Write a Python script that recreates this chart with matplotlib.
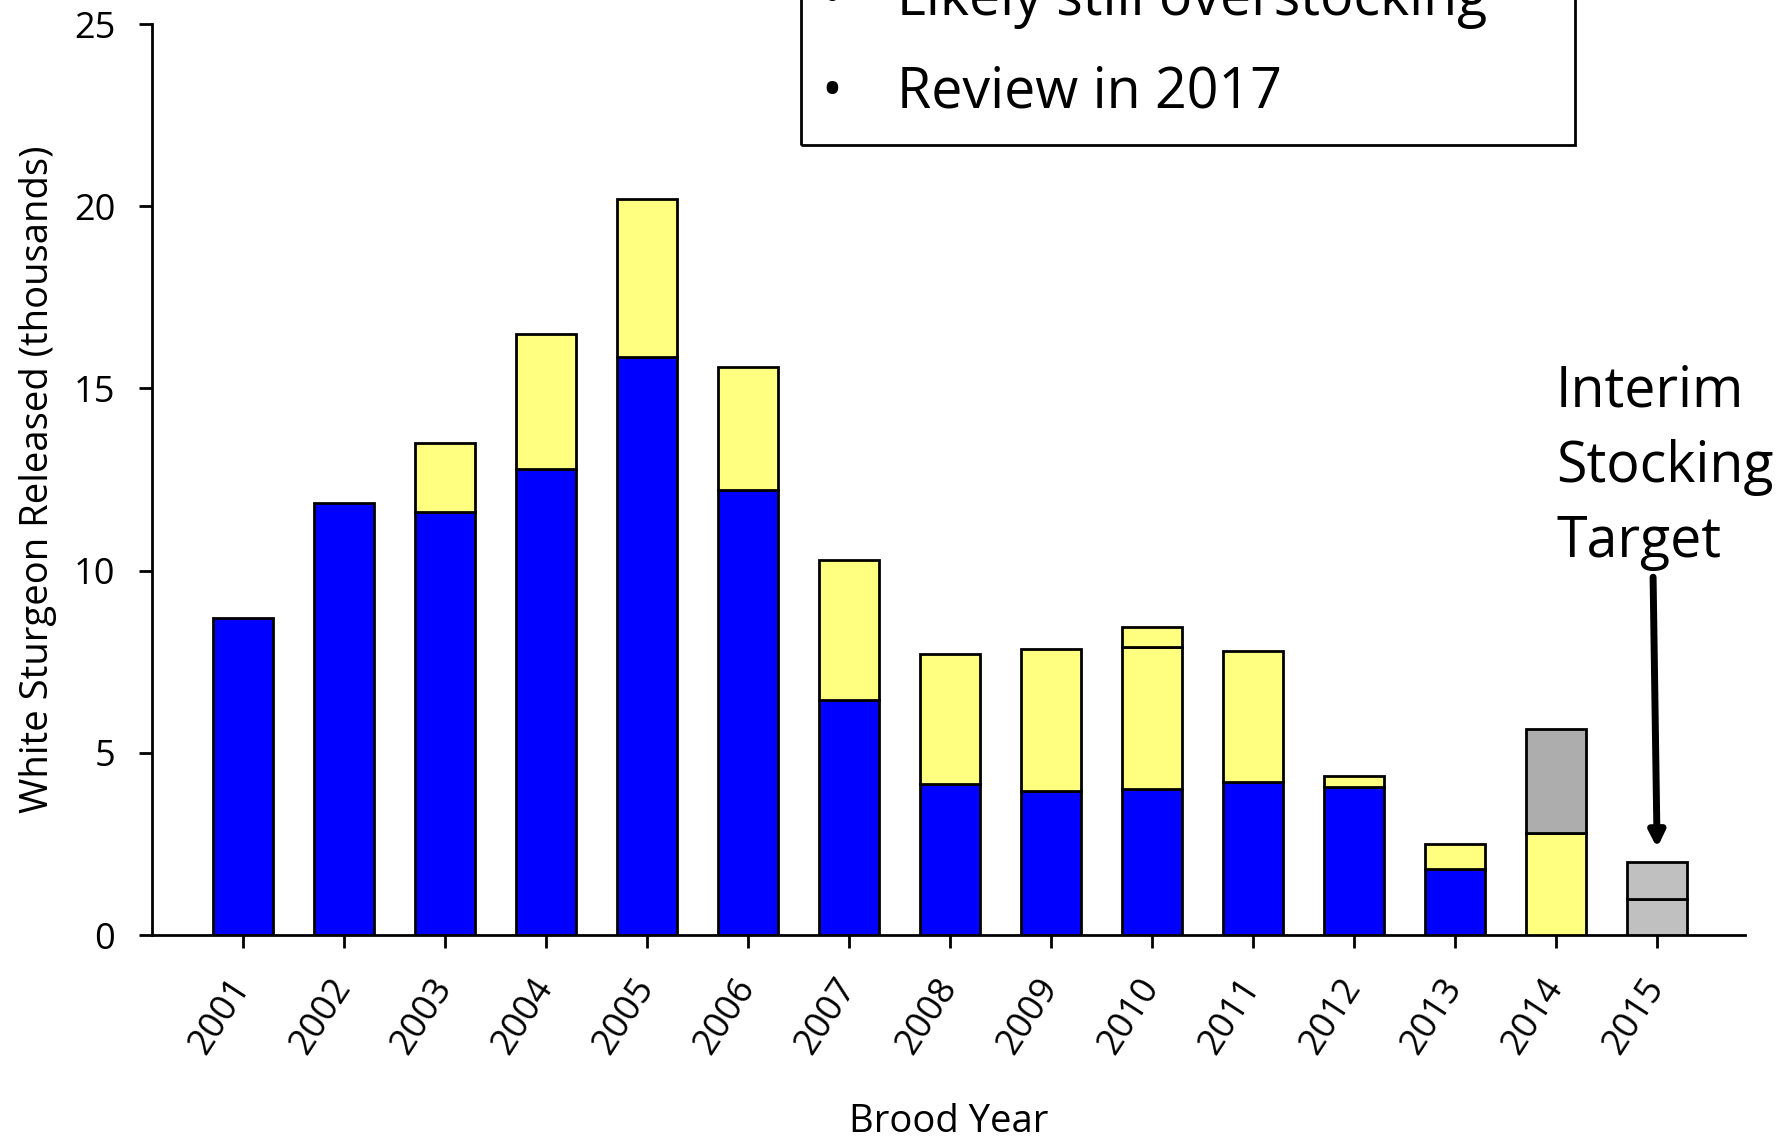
import matplotlib
matplotlib.use("Agg")
import matplotlib.pyplot as plt
import numpy as np
from matplotlib.patches import Rectangle

plt.rcParams["font.family"] = ["Open Sans", "DejaVu Sans"]

# brood years and released fish (thousands), stacked from the bottom up
years = [str(y) for y in range(2001, 2016)]
blue_vals = [8.7, 11.85, 11.6, 12.8, 15.85, 12.2, 6.45, 4.15, 3.95, 4.0, 4.2, 4.05, 1.8, 0, 0]
yellow_vals = [0, 0, 1.9, 3.7, 4.35, 3.4, 3.85, 3.55, 3.9, 3.9, 3.6, 0.3, 0.7, 2.8, 0]
yellow_extra = [0, 0, 0, 0, 0, 0, 0, 0, 0, 0.55, 0, 0, 0, 0, 0]
grey_vals = [0, 0, 0, 0, 0, 0, 0, 0, 0, 0, 0, 0, 0, 2.85, 0]
target_low = [0, 0, 0, 0, 0, 0, 0, 0, 0, 0, 0, 0, 0, 0, 1.0]
target_high = [0, 0, 0, 0, 0, 0, 0, 0, 0, 0, 0, 0, 0, 0, 1.0]

layers = [
    (blue_vals, "#0000FF"),
    (yellow_vals, "#FFFF80"),
    (yellow_extra, "#FFFF80"),
    (grey_vals, "#ADADAD"),
    (target_low, "#C0C0C0"),
    (target_high, "#C0C0C0"),
]

fig = plt.figure(figsize=(17.77, 11.45), dpi=100)
ax = fig.add_axes([0.0855, 0.1834, 0.8965, 0.7956])

x = np.arange(len(years))
bottom = np.zeros(len(years))
for vals, color in layers:
    vals = np.array(vals, dtype=float)
    keep = vals > 0
    ax.bar(x[keep], vals[keep], bottom=bottom[keep], width=0.6,
           color=color, edgecolor="black", linewidth=2, zorder=3)
    bottom += vals

ax.set_xlim(-0.9, 14.87)
ax.set_ylim(0, 25)
ax.set_yticks([0, 5, 10, 15, 20, 25])
ax.set_xticks(x)
ax.set_xticklabels(years, rotation=57, ha="right", va="center",
                   rotation_mode="anchor")

for side in ["top", "right"]:
    ax.spines[side].set_visible(False)
for side in ["left", "bottom"]:
    ax.spines[side].set_linewidth(2)

ax.tick_params(axis="both", direction="out", length=9.5, width=2, labelsize=26)
ax.tick_params(axis="y", pad=17)
ax.tick_params(axis="x", pad=24)

ax.set_ylabel("White Sturgeon Released (thousands)", fontsize=27.5, labelpad=12)
ax.set_xlabel("Brood Year", fontsize=27.5, labelpad=30)

# target callout
ax.text(13.0, 10.0, "Interim\nStocking\nTarget", fontsize=40,
        ha="left", va="bottom", linespacing=1.42)
ax.annotate("", xy=(14.0, 2.39), xytext=(13.96, 9.82),
            arrowprops=dict(arrowstyle="-|>,head_width=0.45,head_length=0.9",
                            color="black", lw=5, shrinkA=0, shrinkB=0))

# note box running off the top of the figure
fig.patches.append(Rectangle((801 / 1777, 1 - 145 / 1145), (1575 - 801) / 1777, 0.3,
                             transform=fig.transFigure, fill=False,
                             edgecolor="black", linewidth=2, clip_on=False))
notes = ["Likely still overstocking", "Review in 2017"]
for i, note in enumerate(notes):
    base = 1 - (15 + 93 * i) / 1145
    fig.text(832 / 1777, base, "\u2022", fontsize=40, ha="center", va="baseline")
    fig.text(897 / 1777, base, note, fontsize=40, ha="left", va="baseline")

fig.savefig("out.png", dpi=100)
